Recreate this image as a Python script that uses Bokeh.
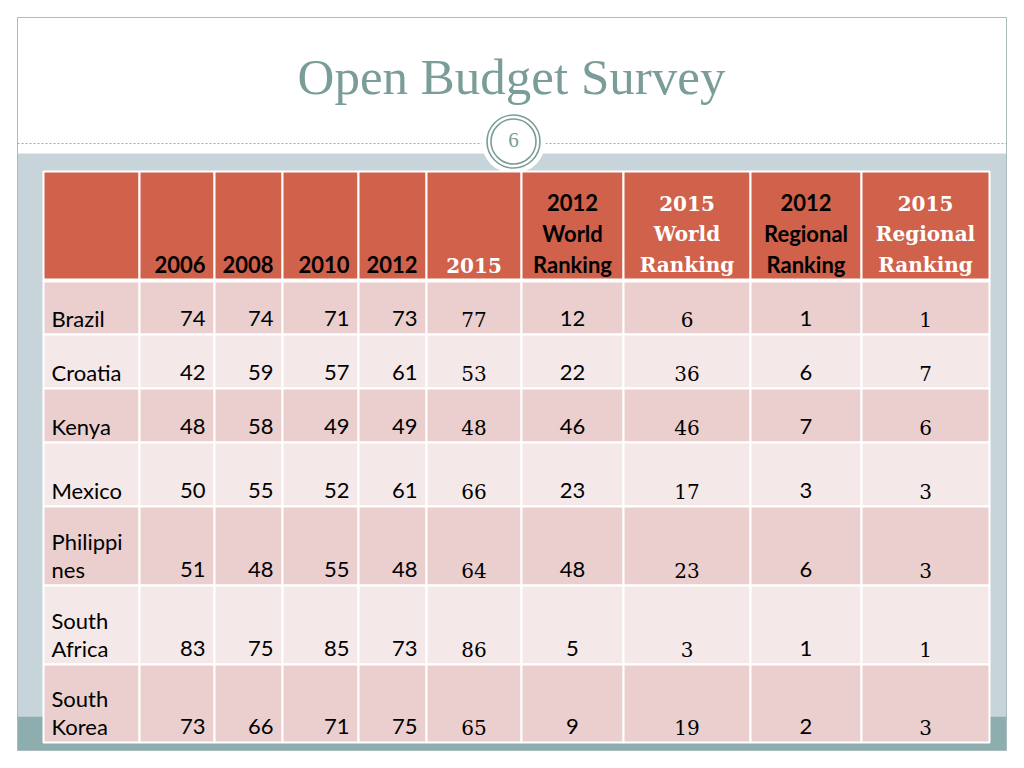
from bokeh.plotting import figure
from bokeh.models import Range1d, ColumnDataSource
from bokeh.core.properties import value
from bokeh.embed import file_html
from bokeh.resources import INLINE

# ---------------- data ----------------
title = "Open Budget Survey"
slide_number = "6"
countries = [["Brazil"], ["Croatia"], ["Kenya"], ["Mexico"],
             ["Philippi", "nes"], ["South", "Africa"], ["South", "Korea"]]
headers = [[], ["2006"], ["2008"], ["2010"], ["2012"], ["2015"],
           ["2012", "World", "Ranking"], ["2015", "World", "Ranking"],
           ["2012", "Regional", "Ranking"], ["2015", "Regional", "Ranking"]]
score_2006 = [74, 42, 48, 50, 51, 83, 73]
score_2008 = [74, 59, 58, 55, 48, 75, 66]
score_2010 = [71, 57, 49, 52, 55, 85, 71]
score_2012 = [73, 61, 49, 61, 48, 73, 75]
score_2015 = [77, 53, 48, 66, 64, 86, 65]
world_rank_2012 = [12, 22, 46, 23, 48, 5, 9]
world_rank_2015 = [6, 36, 46, 17, 23, 3, 19]
regional_rank_2012 = [1, 6, 7, 3, 6, 1, 2]
regional_rank_2015 = [1, 7, 6, 3, 3, 1, 3]

columns = [score_2006, score_2008, score_2010, score_2012, score_2015,
           world_rank_2012, world_rank_2015, regional_rank_2012, regional_rank_2015]

# ---------------- layout / style ----------------
col_edges = [43, 139, 214, 282, 358, 426, 521, 623, 750, 861, 989]
row_edges = [171, 280, 334, 388, 442, 506, 585, 664, 742]
align = ["left", "right", "right", "right", "right", "center", "center", "center", "center", "center"]
serif_cols = {5, 7, 9}

HEADER = "#D0614A"
ROW_DARK = "#EACFCE"
ROW_LIGHT = "#F5E8E8"
BAND = "#C7D5DB"
TEAL = "#8DADAE"
TITLE_C = "#7A9D99"
FRAME = "#A9BDBD"
SANS = "Lato"
SERIF = "DejaVu Serif"
BASE_SHIFT = 0.42  # text baseline correction, in em

p = figure(width=1008, height=752, x_range=Range1d(0, 1008), y_range=Range1d(752, 0),
           output_backend="svg", toolbar_location=None, min_border=0,
           x_axis_location=None, y_axis_location=None,
           background_fill_color="white", border_fill_color="white")
p.outline_line_color = None
p.grid.visible = False

# slide frame and background bands
p.quad(left=[17], right=[1006], top=[17], bottom=[750], fill_color="white",
       line_color=FRAME, line_width=1)
p.quad(left=[17.5], right=[1005.5], top=[153], bottom=[716], fill_color=BAND, line_color=None)
p.quad(left=[17.5], right=[1005.5], top=[716], bottom=[749.5], fill_color=TEAL, line_color=None)

# dotted separator + slide-number badge
p.segment(x0=[17], x1=[1006], y0=[143], y1=[143], line_color="#A8A8A8",
          line_width=1, line_dash="2 2")
p.scatter(x=[513], y=[141], size=64, marker="circle", fill_color="white", line_color=None)
p.scatter(x=[513], y=[141], size=53, marker="circle", fill_color=None,
          line_color=TITLE_C, line_width=1.6)
p.scatter(x=[513], y=[141], size=45, marker="circle", fill_color=None,
          line_color=TITLE_C, line_width=1.6)
p.text(x=[513], y=[148 - BASE_SHIFT * 21], text=[slide_number], text_align="center",
       text_baseline="alphabetic",
       text_font=value("Liberation Serif"), text_font_size="21px", text_color=TITLE_C)

# title
p.text(x=[511], y=[98 - BASE_SHIFT * 51], text=[title], text_align="center",
       text_baseline="alphabetic",
       text_font=value("Liberation Serif"), text_font_size="51px", text_color=TITLE_C)

# table cells
L, R, T, B, C = [], [], [], [], []
for ri in range(len(row_edges) - 1):
    for ci in range(len(col_edges) - 1):
        L.append(col_edges[ci]); R.append(col_edges[ci + 1])
        T.append(row_edges[ri]); B.append(row_edges[ri + 1])
        if ri == 0:
            C.append(HEADER)
        else:
            C.append(ROW_DARK if (ri - 1) % 2 == 0 else ROW_LIGHT)
p.quad(left=L, right=R, top=T, bottom=B, fill_color=C, line_color="white", line_width=2)
p.segment(x0=[col_edges[0]], x1=[col_edges[-1]], y0=[row_edges[1]], y1=[row_edges[1]],
          line_color="white", line_width=4)


def xpos(ci):
    a = align[ci]
    if a == "left":
        return col_edges[ci] + 8
    if a == "right":
        return col_edges[ci + 1] - 9
    return (col_edges[ci] + col_edges[ci + 1]) / 2


groups = {}


def add(key, x, y, t):
    g = groups.setdefault(key, dict(x=[], y=[], text=[]))
    g["x"].append(x); g["y"].append(y); g["text"].append(t)


# headers
hb = row_edges[1] - 7
for ci, lines in enumerate(headers):
    n = len(lines)
    for k, line in enumerate(lines):
        y = hb - 31 * (n - 1 - k)
        add(("h", ci in serif_cols, align[ci]), xpos(ci), y, line)

# body
for ri in range(len(countries)):
    rb = row_edges[ri + 2] - 7
    lines = countries[ri]
    n = len(lines)
    for k, line in enumerate(lines):
        add(("b", False, "left"), xpos(0), rb - 28 * (n - 1 - k), line)
    for ci, col in enumerate(columns, start=1):
        add(("b", ci in serif_cols, align[ci]), xpos(ci), rb, str(col[ri]))

for (kind, serif, al), g in groups.items():
    if kind == "h":
        size = 20 if serif else 22
    else:
        size = 20 if serif else 22
    g = dict(g)
    g["y"] = [v - BASE_SHIFT * size for v in g["y"]]
    p.text(x="x", y="y", text="text", source=ColumnDataSource(g),
           text_align=al, text_baseline="alphabetic",
           text_font=value(SERIF if serif else SANS),
           text_font_size=f"{size}px",
           text_font_style="bold" if kind == "h" else "normal",
           text_color="white" if (kind == "h" and serif) else "black")

open("out.html", "w").write(file_html(p, INLINE))
